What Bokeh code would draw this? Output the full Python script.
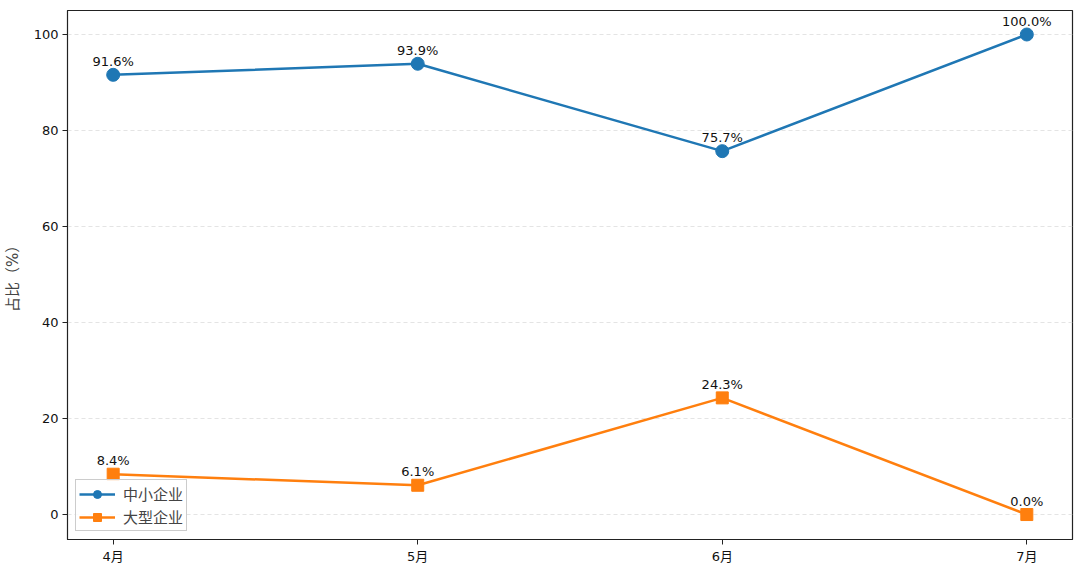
from bokeh.plotting import figure
from bokeh.models import ColumnDataSource, FixedTicker, Range1d, Legend, LegendItem
from bokeh.core.properties import value
from bokeh.embed import file_html
from bokeh.resources import INLINE

months = ["4月", "5月", "6月", "7月"]
sme = [91.6, 93.9, 75.7, 100.0]
large = [8.4, 6.1, 24.3, 0.0]
y_ticks = [0, 20, 40, 60, 80, 100]
series_names = ["中小企业", "大型企业"]

FONT = "DejaVu Sans, Noto Sans CJK SC"
BLUE = "#1f77b4"
ORANGE = "#ff7f0e"

xs = list(range(len(months)))
src_a = ColumnDataSource(dict(x=xs, y=sme, t=[f"{v:.1f}%" for v in sme]))
src_b = ColumnDataSource(dict(x=xs, y=large, t=[f"{v:.1f}%" for v in large]))

p = figure(frame_width=1005, frame_height=529, output_backend="svg", toolbar_location=None,
           x_range=Range1d(-0.15, 3.15), y_range=Range1d(-5.2, 105.0),
           min_border_left=55, min_border_top=10, min_border_right=3, min_border_bottom=5)
p.background_fill_color = "white"
p.outline_line_color = "#222222"
p.outline_line_width = 1.2

la = p.line("x", "y", source=src_a, line_color=BLUE, line_width=2.5)
ma = p.scatter("x", "y", source=src_a, marker="circle", size=13, fill_color=BLUE, line_color=BLUE)
lb = p.line("x", "y", source=src_b, line_color=ORANGE, line_width=2.5)
mb = p.scatter("x", "y", source=src_b, marker="square", size=12, fill_color=ORANGE, line_color=ORANGE)

for src in (src_a, src_b):
    p.text("x", "y", text="t", source=src, text_align="center", text_baseline="bottom",
           y_offset=-6, text_font_size="13px", text_color="#111111",
           text_font=value(FONT))

p.xaxis.ticker = FixedTicker(ticks=xs)
p.xaxis.major_label_overrides = {i: m for i, m in enumerate(months)}
p.yaxis.ticker = FixedTicker(ticks=y_ticks)
p.yaxis.axis_label = "占比（%）"
p.yaxis.axis_label_text_font_style = "normal"
p.yaxis.axis_label_text_font_size = "15px"
p.yaxis.axis_label_text_font = FONT
p.yaxis.axis_label_standoff = 9

for ax in (p.xaxis, p.yaxis):
    ax.major_label_text_font = FONT
    ax.major_label_text_font_size = "13px"
    ax.major_label_text_color = "#111111"
    ax.axis_line_color = "#222222"
    ax.major_tick_line_color = "#222222"
    ax.major_tick_in = 0
    ax.major_tick_out = 5
    ax.minor_tick_line_color = None
    ax.major_label_standoff = 4

p.xgrid.grid_line_color = None
p.ygrid.grid_line_color = "#dddddd"
p.ygrid.grid_line_dash = "4 3"
p.ygrid.grid_line_alpha = 0.8

legend = Legend(items=[LegendItem(label=series_names[0], renderers=[la, ma]),
                       LegendItem(label=series_names[1], renderers=[lb, mb])],
                location="bottom_left")
legend.label_text_font = FONT
legend.label_text_font_size = "15px"
legend.border_line_color = "#cccccc"
legend.border_line_alpha = 1
legend.background_fill_alpha = 0.85
legend.margin = 8
legend.padding = 3
legend.spacing = 2
legend.glyph_width = 36
legend.label_standoff = 8
p.add_layout(legend)

open("out.html", "w").write(file_html(p, INLINE))
